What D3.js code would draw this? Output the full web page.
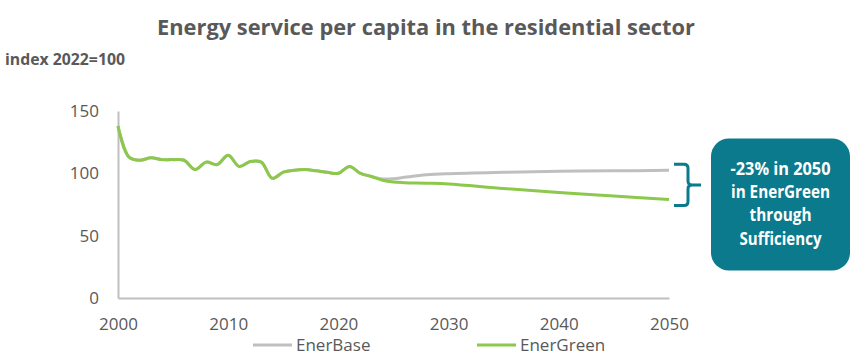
<!DOCTYPE html>
<html>
<head>
<meta charset="utf-8">
<script src="https://cdn.jsdelivr.net/npm/d3@7"></script>
<style>
  html, body { margin: 0; padding: 0; background: #ffffff; }
  svg { display: block; font-family: "Open Sans", sans-serif; }
</style>
</head>
<body>
<svg id="chart" width="853" height="359"></svg>
<script>
// ---- data ----
const histYears = [2000,2001,2002,2003,2004,2005,2006,2007,2008,2009,2010,2011,2012,2013,2014,2015,2016,2017,2018,2019,2020,2021,2022];
const histValues = [138,113,110.5,112.5,111,111,110.5,103,109,107,114.5,105.5,109.5,109,96,101,102.5,103,102,100.8,100,105.5,100];
const futureYears = [2023,2024,2025,2026,2028,2030,2035,2040,2045,2050];
const enerBaseFuture = [97.5,95.5,95.7,96.8,98.8,99.7,100.8,101.6,102,102.4];
const enerGreenFuture = [97.5,94.5,93,92.5,92.1,91.5,87.8,84.6,81.8,79];
const seriesNames = ["EnerBase","EnerGreen"];
const xTicks = [2000,2010,2020,2030,2040,2050];
const yTicks = [0,50,100,150];
const titleText = "Energy service per capita in the residential sector";
const unitText = "index 2022=100";
const calloutLines = ["-23% in 2050","in EnerGreen","through","Sufficiency"];

const colors = { EnerBase: "#BFBFBF", EnerGreen: "#8CC84B" };
const textGray = "#595959";
const teal = "#0B7A8C";

const svg = d3.select("#chart");

const x = d3.scaleLinear().domain([2000, 2050]).range([118, 669]);
const y = d3.scaleLinear().domain([0, 150]).range([298, 111]);

// title
svg.append("text")
  .attr("x", 157).attr("y", 35)
  .attr("textLength", 538).attr("lengthAdjust", "spacingAndGlyphs")
  .attr("font-size", 21).attr("font-weight", 700).attr("fill", textGray)
  .text(titleText);

svg.append("text")
  .attr("x", 5).attr("y", 65)
  .attr("textLength", 120).attr("lengthAdjust", "spacingAndGlyphs")
  .attr("font-size", 16).attr("font-weight", 700).attr("fill", textGray)
  .text(unitText);

// axes
const yAxis = svg.append("g").attr("transform", "translate(118,0)")
  .call(d3.axisLeft(y).tickValues(yTicks).tickSize(0).tickPadding(19).tickFormat(d3.format("d")));
const xAxis = svg.append("g").attr("transform", "translate(0,298)")
  .call(d3.axisBottom(x).tickValues(xTicks).tickSize(0).tickPadding(20).tickFormat(d3.format("d")));
[yAxis, xAxis].forEach(g => {
  g.select(".domain").attr("stroke", "#BFBFBF").attr("stroke-width", 2);
  g.selectAll("text").attr("font-size", 17).attr("fill", textGray).attr("font-family", "Open Sans, sans-serif");
});

// lines
const allYears = histYears.concat(futureYears);
const baseVals = histValues.concat(enerBaseFuture);
const greenVals = histValues.concat(enerGreenFuture);
const line = d3.line().x(d => x(d[0])).y(d => y(d[1])).curve(d3.curveCatmullRom.alpha(0.5));

svg.append("path")
  .attr("d", line(allYears.map((yr, i) => [yr, baseVals[i]])))
  .attr("fill", "none").attr("stroke", colors.EnerBase).attr("stroke-width", 3);
svg.append("path")
  .attr("d", line(allYears.map((yr, i) => [yr, greenVals[i]])))
  .attr("fill", "none").attr("stroke", colors.EnerGreen).attr("stroke-width", 3);

// legend
const legendPos = [{lx: 253, tx: 296}, {lx: 477, tx: 520}];
seriesNames.forEach((name, i) => {
  const p = legendPos[i];
  svg.append("line")
    .attr("x1", p.lx).attr("x2", p.lx + 39).attr("y1", 345).attr("y2", 345)
    .attr("stroke", colors[name]).attr("stroke-width", 3);
  svg.append("text")
    .attr("x", p.tx).attr("y", 351)
    .attr("font-size", 17).attr("fill", textGray)
    .text(name);
});

// bracket
const yb = y(enerBaseFuture[enerBaseFuture.length - 1]);
const yg = y(enerGreenFuture[enerGreenFuture.length - 1]);
const bx = 688, bl = 674, mid = (yb + yg) / 2;
const bpath = d3.path();
bpath.moveTo(bl, yb - 6);
bpath.lineTo(bx - 4, yb - 6);
bpath.quadraticCurveTo(bx, yb - 6, bx, yb - 2);
bpath.lineTo(bx, mid - 4);
bpath.quadraticCurveTo(bx, mid, bx + 4, mid);
bpath.lineTo(bx + 13, mid);
bpath.moveTo(bx + 4, mid);
bpath.quadraticCurveTo(bx, mid, bx, mid + 4);
bpath.lineTo(bx, yg + 2);
bpath.quadraticCurveTo(bx, yg + 6, bx - 4, yg + 6);
bpath.lineTo(bl, yg + 6);
svg.append("path").attr("d", bpath.toString())
  .attr("fill", "none").attr("stroke", teal).attr("stroke-width", 3);

// callout box
svg.append("rect")
  .attr("x", 711).attr("y", 138.5).attr("width", 139).attr("height", 132)
  .attr("rx", 18).attr("ry", 18).attr("fill", teal);
const lineBase = [175, 198, 221, 245];
const lineWidths = [100, 99, 62, 82];
calloutLines.forEach((t, i) => {
  svg.append("text")
    .attr("x", 780.5).attr("y", lineBase[i])
    .attr("text-anchor", "middle")
    .attr("textLength", lineWidths[i]).attr("lengthAdjust", "spacingAndGlyphs")
    .attr("font-size", 18).attr("font-weight", 700).attr("fill", "#ffffff")
    .text(t);
});
</script>
</body>
</html>
